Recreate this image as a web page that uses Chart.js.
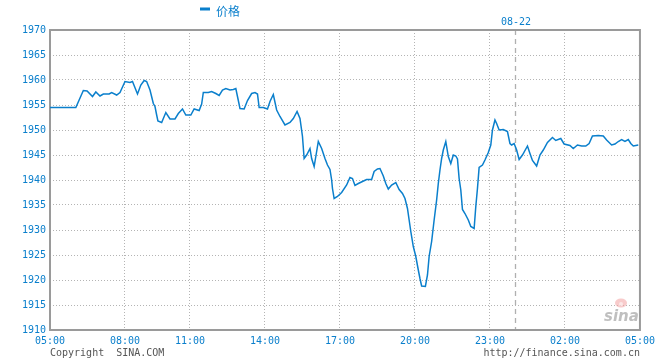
<!DOCTYPE html>
<html>
<head>
<meta charset="utf-8">
<script src="https://cdn.jsdelivr.net/npm/chart.js@4/dist/chart.umd.min.js"></script>
<style>
  html, body { margin: 0; padding: 0; background: #ffffff; }
  #wrap { width: 660px; height: 360px; position: relative; }
</style>
</head>
<body>
<div id="wrap"><canvas id="c" width="660" height="360"></canvas></div>
<script>
// ---- data (session minutes since 05:00, price) ----
const seriesName = "价格";
const minutes = [
  0, 62, 80, 89, 102, 110, 120, 128, 142, 148, 160, 168, 180, 192, 198, 210, 218, 226, 232, 240,
  248, 252, 256, 259, 268, 278, 288, 300, 308, 318, 326, 338, 346, 358, 364, 368, 380, 388, 398, 406,
  414, 422, 432, 440, 446, 450, 456, 466, 474, 484, 492, 498, 502, 512, 522, 528, 536, 544, 552, 564,
  576, 584, 593, 600, 606, 610, 616, 624, 628, 634, 638, 644, 652, 660, 666, 672, 676, 678, 682, 690,
  700, 712, 720, 726, 732, 740, 750, 760, 772, 778, 786, 792, 800, 806, 812, 820, 830, 838, 846, 852,
  858, 862, 866, 872, 878, 884, 888, 892, 901, 906, 910, 916, 922, 928, 932, 936, 940, 944, 950, 956,
  962, 968, 974, 978, 982, 986, 990, 996, 1004, 1010, 1018, 1022, 1026, 1030, 1038, 1044, 1052, 1058, 1062, 1068,
  1072, 1078, 1088, 1098, 1104, 1108, 1114, 1120, 1126, 1134, 1146, 1152, 1158, 1168, 1176, 1184, 1194, 1206, 1214, 1226,
  1234, 1248, 1256, 1266, 1276, 1286, 1294, 1302, 1316, 1328, 1336, 1348, 1356, 1364, 1372, 1380, 1388, 1394, 1400, 1406,
  1412
];
const prices = [
  1954.5, 1954.5, 1957.9, 1957.8, 1956.7, 1957.6, 1956.8, 1957.2, 1957.2, 1957.5, 1957.0, 1957.5, 1959.7, 1959.5, 1959.7, 1957.2, 1959.0, 1959.9, 1959.7, 1958.0,
  1955.3, 1954.7, 1953.0, 1951.8, 1951.5, 1953.5, 1952.2, 1952.2, 1953.3, 1954.2, 1953.0, 1953.0, 1954.2, 1953.9, 1955.2, 1957.5, 1957.5, 1957.7, 1957.3, 1956.9,
  1958.0, 1958.3, 1958.0, 1958.1, 1958.3, 1956.7, 1954.3, 1954.2, 1955.9, 1957.3, 1957.5, 1957.2, 1954.5, 1954.5, 1954.2, 1955.7, 1957.1, 1954.0, 1952.7, 1951.0,
  1951.5, 1952.3, 1953.7, 1952.3, 1948.7, 1944.3, 1945.0, 1946.3, 1944.3, 1942.7, 1944.7, 1947.7, 1946.3, 1944.3, 1943.0, 1942.1, 1940.0, 1938.3, 1936.3, 1936.7,
  1937.5, 1939.0, 1940.5, 1940.3, 1938.9, 1939.3, 1939.7, 1940.1, 1940.1, 1941.7, 1942.2, 1942.3, 1940.8, 1939.3, 1938.2, 1939.0, 1939.5, 1938.1, 1937.3, 1936.3,
  1934.3, 1932.0, 1929.7, 1926.7, 1924.7, 1922.0, 1920.3, 1918.8, 1918.7, 1921.0, 1924.7, 1927.7, 1932.0, 1936.0, 1939.3, 1942.0, 1944.3, 1946.0, 1947.7, 1944.7,
  1943.3, 1945.0, 1944.8, 1944.2, 1940.3, 1938.0, 1934.1, 1933.3, 1932.0, 1930.7, 1930.3, 1934.7, 1938.3, 1942.5, 1943.0, 1944.0, 1945.5, 1947.0, 1950.0, 1952.0,
  1951.3, 1950.0, 1950.1, 1949.7, 1947.3, 1947.0, 1947.3, 1946.0, 1944.1, 1945.0, 1946.8, 1945.3, 1943.9, 1942.8, 1945.0, 1946.0, 1947.5, 1948.5, 1947.9, 1948.3,
  1947.2, 1946.9, 1946.3, 1947.0, 1946.8, 1946.8, 1947.3, 1948.8, 1948.9, 1948.8, 1948.0, 1947.0, 1947.2, 1947.7, 1948.1, 1947.7, 1948.1, 1947.3, 1946.8, 1946.9,
  1947.0
];
const tickMinutes = [0, 180, 336, 516, 696, 876, 1056, 1236, 1416];
const tickLabels = ["05:00", "08:00", "11:00", "14:00", "17:00", "20:00", "23:00", "02:00", "05:00"];
const dateMarkMinute = 1116;
const dateMarkLabel = "08-22";
const yMin = 1910, yMax = 1970, yStep = 5;
const copyrightText = "Copyright  SINA.COM";
const urlText = "http://finance.sina.com.cn";
const logoText = "sina";

// ---- styles ----
const BLUE = "#0a7fcc";
const GRID = "#b4b4b4";
const FRAME = "#9a9a9a";
const MONO = "10px 'DejaVu Sans Mono', 'Liberation Mono', monospace";

const points = minutes.map((m, i) => ({ x: m, y: prices[i] }));

const decor = {
  id: "decor",
  beforeDatasetsDraw(chart) {
    const { ctx, chartArea: a, scales } = chart;
    ctx.save();
    // date change dashed line
    const dx = Math.round(scales.x.getPixelForValue(dateMarkMinute)) + 0.5;
    ctx.strokeStyle = "#b0b0b0";
    ctx.lineWidth = 1.3;
    ctx.setLineDash([5, 4]);
    ctx.beginPath();
    ctx.moveTo(dx, a.top);
    ctx.lineTo(dx, a.bottom);
    ctx.stroke();
    ctx.setLineDash([]);
    // frame
    ctx.strokeStyle = FRAME;
    ctx.lineWidth = 2;
    ctx.strokeRect(a.left, a.top, a.right - a.left, a.bottom - a.top);
    ctx.restore();
  },
  afterDraw(chart) {
    const { ctx, chartArea: a, scales } = chart;
    ctx.save();
    // legend
    ctx.fillStyle = BLUE;
    ctx.fillRect(200, 7.5, 10, 3);
    ctx.font = "12px 'Noto Sans CJK SC', sans-serif";
    ctx.textBaseline = "middle";
    ctx.textAlign = "left";
    ctx.fillText(seriesName, 216, 11);
    // date label
    ctx.font = MONO;
    ctx.textAlign = "center";
    ctx.fillText(dateMarkLabel, scales.x.getPixelForValue(dateMarkMinute) + 1, 22);
    // copyright / url
    ctx.fillStyle = "#555555";
    ctx.textAlign = "left";
    ctx.fillText(copyrightText, a.left, 353);
    ctx.textAlign = "right";
    ctx.fillText(urlText, a.right, 353);
    // sina logo (watermark)
    ctx.globalAlpha = 0.55;
    ctx.fillStyle = "#f2a0a0";
    ctx.beginPath();
    ctx.ellipse(621, 303, 6, 4.5, 0, 0, Math.PI * 2);
    ctx.fill();
    ctx.fillStyle = "#ffffff";
    ctx.beginPath();
    ctx.arc(621, 304, 2, 0, Math.PI * 2);
    ctx.fill();
    ctx.fillStyle = "#8a8a8a";
    ctx.font = "italic bold 15px 'DejaVu Sans', sans-serif";
    ctx.textAlign = "left";
    ctx.textBaseline = "alphabetic";
    ctx.fillText(logoText, 604, 321);
    ctx.restore();
  }
};

new Chart(document.getElementById("c"), {
  type: "line",
  data: {
    datasets: [{
      label: seriesName,
      data: points,
      borderColor: BLUE,
      borderWidth: 1.5,
      pointRadius: 0,
      tension: 0,
      fill: false
    }]
  },
  options: {
    responsive: false,
    animation: false,
    layout: { padding: { left: 0, right: 20, top: 30, bottom: 0 } },
    plugins: { legend: { display: false }, tooltip: { enabled: false } },
    scales: {
      x: {
        type: "linear",
        min: tickMinutes[0],
        max: tickMinutes[tickMinutes.length - 1],
        afterBuildTicks(scale) { scale.ticks = tickMinutes.map(v => ({ value: v })); },
        afterFit(scale) { scale.height = 30; },
        ticks: {
          autoSkip: false,
          maxRotation: 0,
          padding: 5,
          color: BLUE,
          font: { family: "'DejaVu Sans Mono', 'Liberation Mono', monospace", size: 10 },
          callback(v) { const i = tickMinutes.indexOf(v); return i >= 0 ? tickLabels[i] : ""; }
        },
        grid: { color: GRID, lineWidth: 1, drawTicks: false },
        border: { display: false, dash: [1, 2] }
      },
      y: {
        min: yMin,
        max: yMax,
        afterFit(scale) { scale.width = 50; },
        ticks: {
          stepSize: yStep,
          padding: 4,
          color: BLUE,
          font: { family: "'DejaVu Sans Mono', 'Liberation Mono', monospace", size: 10 },
          callback(v) { return String(v); }
        },
        grid: { color: GRID, lineWidth: 1, drawTicks: false },
        border: { display: false, dash: [1, 2] }
      }
    }
  },
  plugins: [decor]
});
</script>
</body>
</html>
